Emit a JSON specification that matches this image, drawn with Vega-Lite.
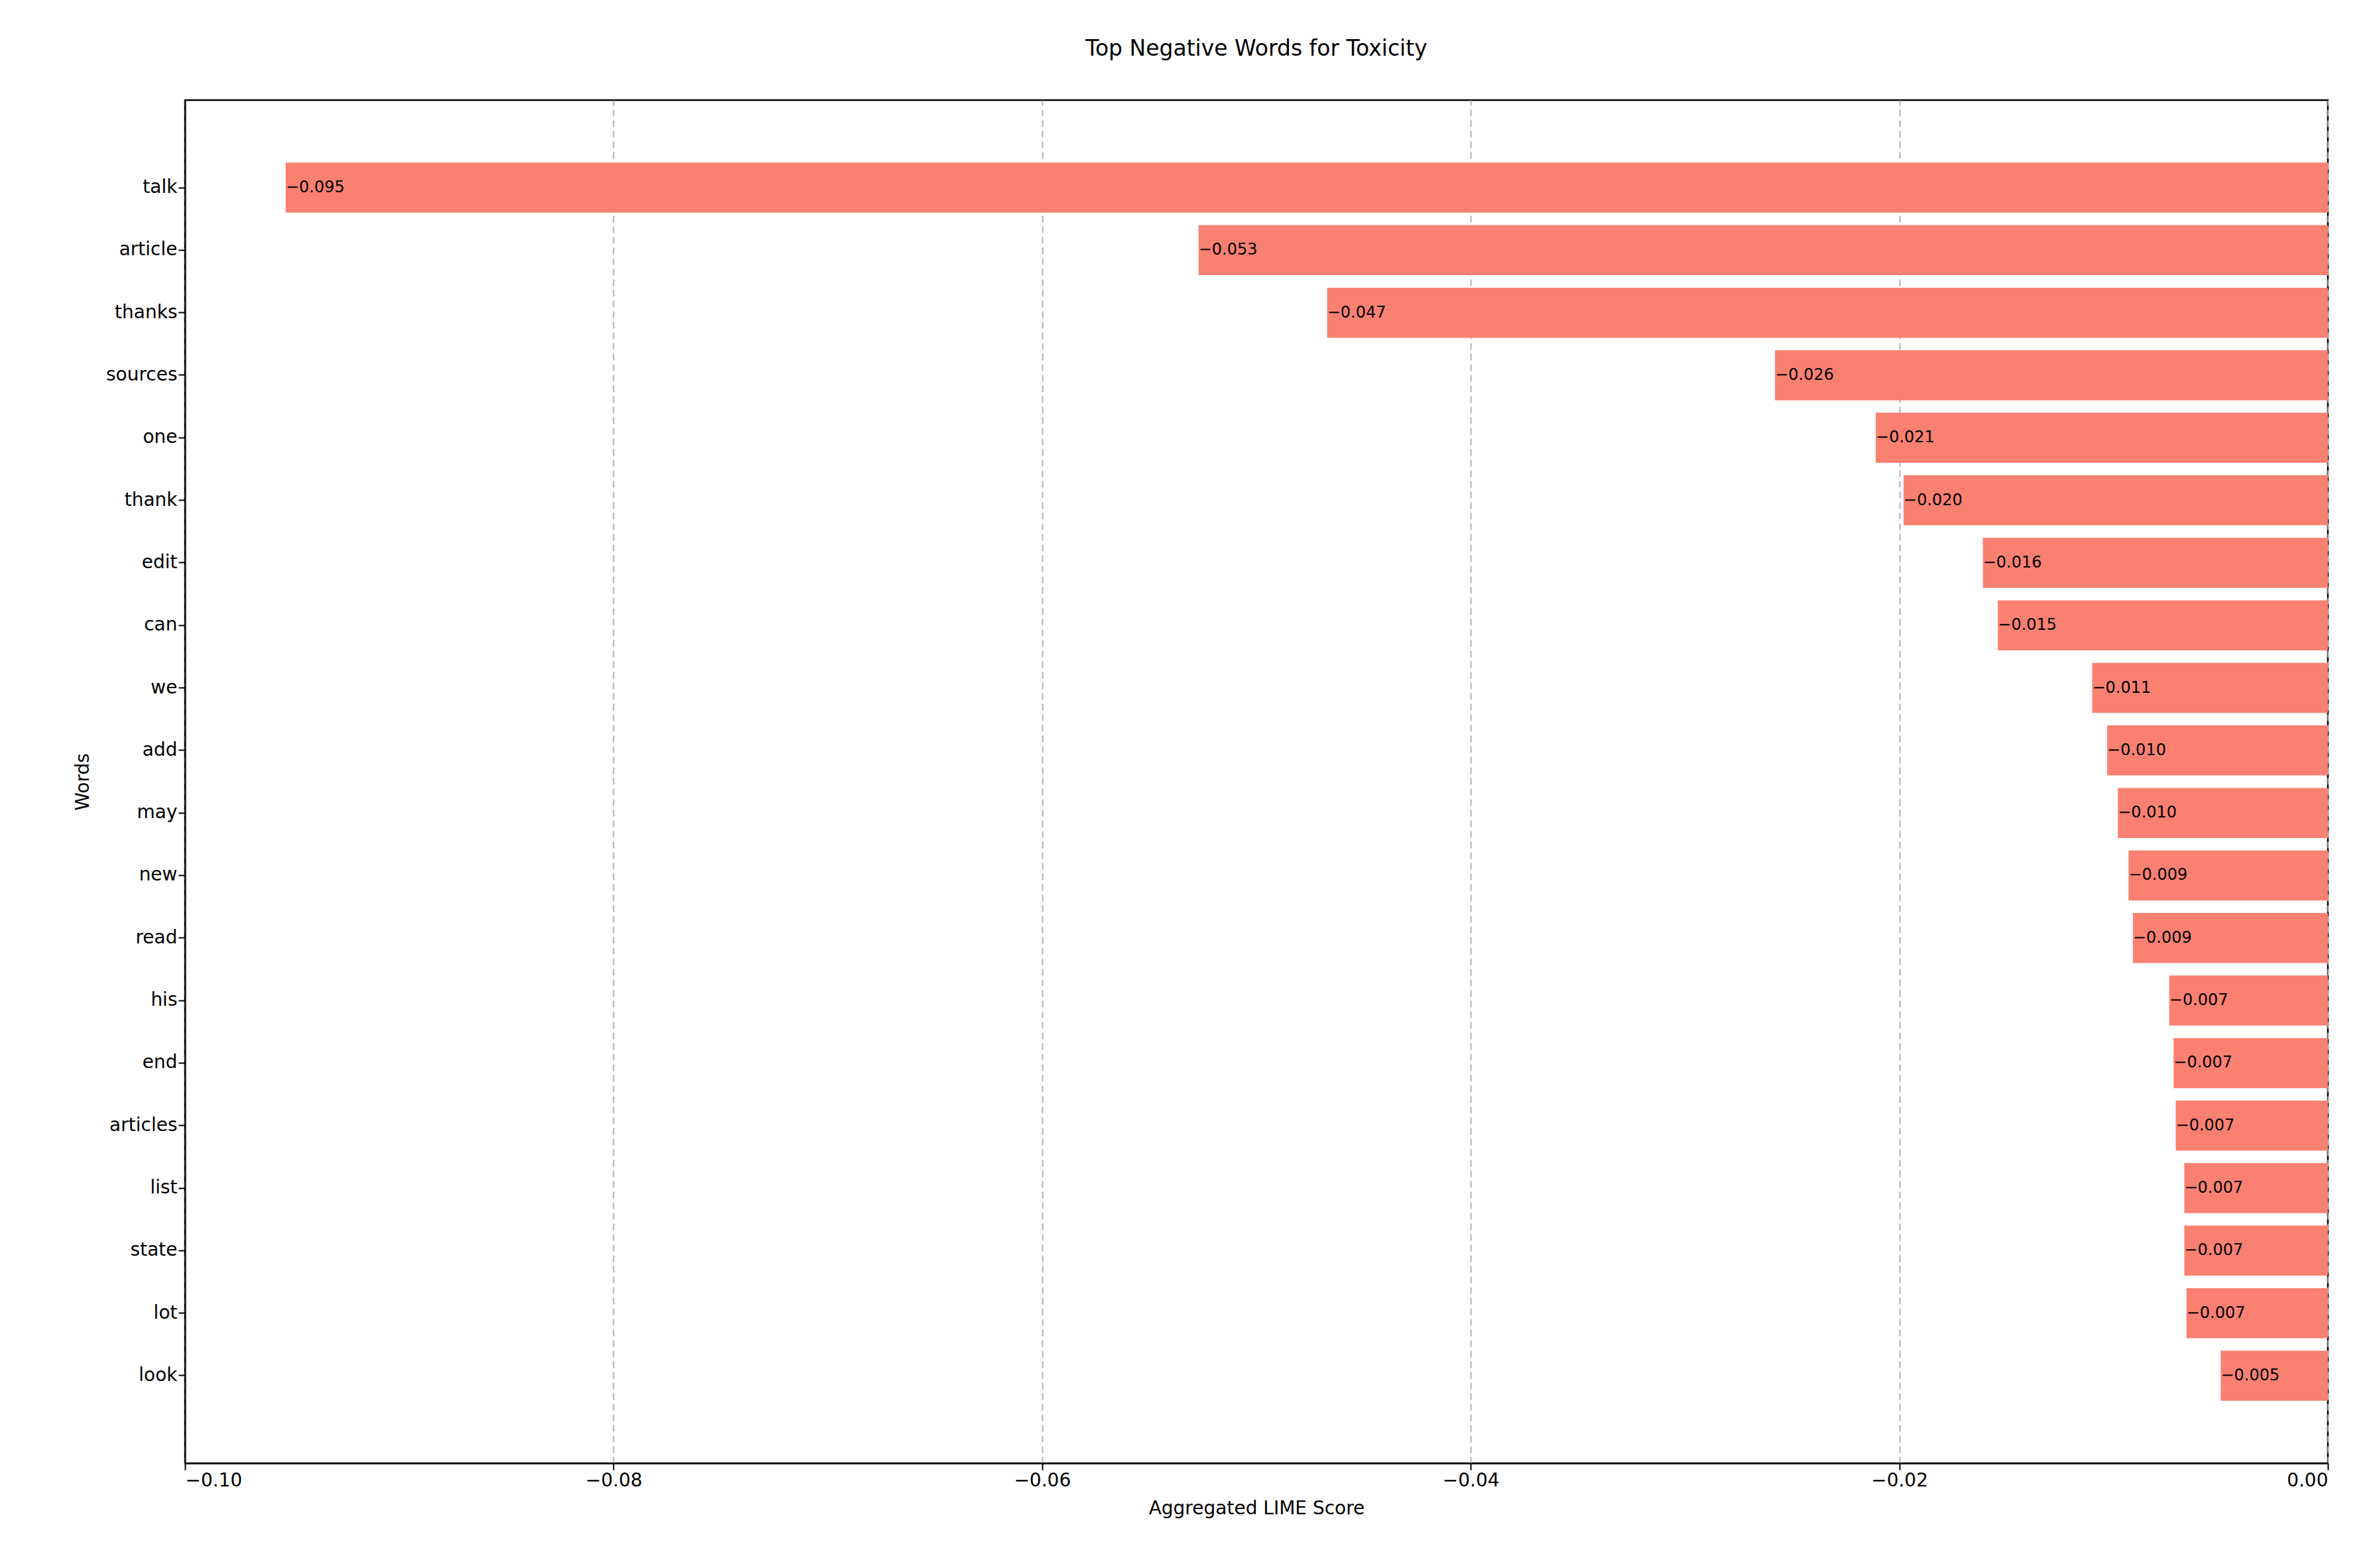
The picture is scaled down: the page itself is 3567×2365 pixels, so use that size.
{
  "$schema": "https://vega.github.io/schema/vega-lite/v6.json",
  "width": 3232,
  "height": 2056,
  "autosize": {"type": "none"},
  "padding": {"left": 279, "top": 151, "right": 56, "bottom": 158},
  "background": "white",
  "config": {
    "font": "DejaVu Sans",
    "view": {"stroke": "black", "strokeWidth": 2.5},
    "axis": {"labelFontSize": 28, "titleFontSize": 28, "titleFontWeight": "normal", "labelColor": "black", "titleColor": "black", "tickColor": "black", "domainColor": "black", "tickSize": 10, "tickWidth": 2, "domainWidth": 2}
  },
  "title": {"text": "Top Negative Words for Toxicity", "fontSize": 33, "fontWeight": "normal", "offset": 60},
  "data": {"values": [
    {"word": "talk", "score": -0.0953},
    {"word": "article", "score": -0.0527},
    {"word": "thanks", "score": -0.0467},
    {"word": "sources", "score": -0.0258},
    {"word": "one", "score": -0.0211},
    {"word": "thank", "score": -0.0198},
    {"word": "edit", "score": -0.0161},
    {"word": "can", "score": -0.0154},
    {"word": "we", "score": -0.0110},
    {"word": "add", "score": -0.0103},
    {"word": "may", "score": -0.0098},
    {"word": "new", "score": -0.0093},
    {"word": "read", "score": -0.0091},
    {"word": "his", "score": -0.0074},
    {"word": "end", "score": -0.0072},
    {"word": "articles", "score": -0.0071},
    {"word": "list", "score": -0.0067},
    {"word": "state", "score": -0.0067},
    {"word": "lot", "score": -0.0066},
    {"word": "look", "score": -0.0050}
  ]},
  "encoding": {
    "y": {"field": "word", "type": "nominal", "sort": null, "title": "Words",
      "scale": {"paddingInner": 0.2, "paddingOuter": 1},
      "axis": {"titlePadding": 20}},
    "x": {"field": "score", "type": "quantitative", "title": "Aggregated LIME Score",
      "scale": {"domain": [-0.1, 0], "nice": false},
      "axis": {"values": [-0.1, -0.08, -0.06, -0.04, -0.02, 0], "format": ".2f", "grid": true, "gridDash": [10, 6], "gridColor": "#b0b0b0", "gridWidth": 2, "titlePadding": 14}}
  },
  "layer": [
    {"mark": {"type": "bar", "color": "#fa8072"}, "encoding": {"x2": {"datum": 0}}},
    {"mark": {"type": "text", "align": "left", "baseline": "middle", "fontSize": 24, "color": "black"},
     "encoding": {"text": {"field": "score", "type": "quantitative", "format": ".3f"}}}
  ]
}
